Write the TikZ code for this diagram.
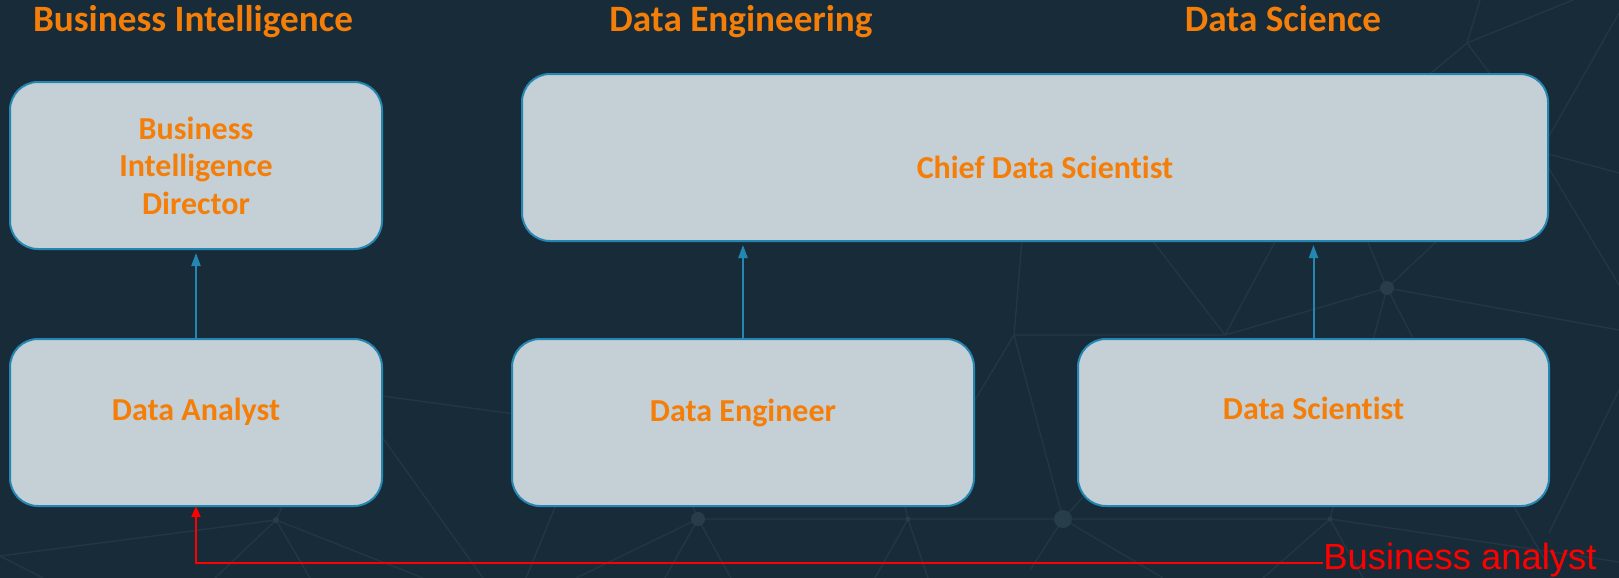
\documentclass[tikz,border=0pt]{standalone}
\usepackage{fontspec}
\setmainfont{Carlito}[Ligatures=NoCommon]
\newfontfamily\arialfont{Liberation Sans}
\usetikzlibrary{positioning,arrows.meta}
\definecolor{slate}{RGB}{23,44,56}
\definecolor{mesh}{RGB}{34,54,67}
\definecolor{meshdot}{RGB}{40,61,74}
\definecolor{boxfill}{RGB}{197,208,214}
\definecolor{boxline}{RGB}{36,134,178}
\definecolor{roleorange}{RGB}{244,126,8}
\tikzstyle{role box}=[draw=boxline,fill=boxfill,line width=1pt,rounded corners=14pt,outer sep=0pt,inner sep=0pt,minimum height=83.5pt,text=roleorange,font=\fontsize{16}{18.75}\selectfont\bfseries,align=center]
\tikzstyle{team title}=[text=roleorange,font=\fontsize{18.6}{22}\selectfont\bfseries,anchor=base,inner sep=0pt]
\tikzstyle{report edge}=[-{Triangle[length=6.5pt,width=4.5pt]},draw=boxline,line width=1pt,shorten >=2pt]
\tikzstyle{analyst edge}=[-{Triangle[length=5.5pt,width=4.5pt]},draw=red,line width=1pt]
\tikzstyle{mesh line}=[draw=mesh,line width=0.7pt]
\newcommand{\rolebox}[4][]{
  \node [role box, minimum width=#3, #1] (#2) {#4}
}

\begin{document}
\begin{tikzpicture}[x=0.5pt,y=-0.5pt]
        \path[use as bounding box,fill=slate] (0,0) rectangle (1619,578);

        % faint network in the background
        \draw[mesh line] (0,556) -- (276,520) -- (215,578) (276,520) -- (310,578)
            (276,520) -- (423,578) (276,520) -- (290,490) (0,556) -- (43,578)
            (360,393) -- (515,414) (370,420) -- (483,578)
            (698,519) -- (1330,519) -- (1619,562)
            (698,519) -- (576,578) (698,519) -- (665,578) (698,519) -- (731,578) (698,519) -- (688,495)
            (908,519) -- (875,578) (908,519) -- (928,578) (908,519) -- (902,495)
            (560,495) -- (526,578)
            (1014,335) -- (960,425) (1014,335) -- (1225,335) -- (1387,288) -- (1619,330)
            (1014,335) -- (1063,519) (1014,335) -- (1022,240)
            (1225,335) -- (1152,240) (1225,335) -- (1276,240)
            (1387,288) -- (1367,240) (1387,288) -- (1438,240) (1387,288) -- (1373,340) (1387,288) -- (1414,340)
            (1063,519) -- (1030,570) (1063,519) -- (1163,578) (1063,519) -- (1085,495)
            (1330,519) -- (1363,578) (1330,519) -- (1263,578) (1330,519) -- (1335,500)
            (1549,533) -- (1619,390) (1513,505) -- (1549,567)
            (1467,43) -- (1480,0) (1467,43) -- (1573,0) (1467,43) -- (1430,74) (1467,43) -- (1490,74)
            (1548,138) -- (1619,13) (1548,154) -- (1619,173) (1548,167) -- (1619,285);
        \fill[meshdot] (698,519) circle (3.5pt) (1063,519) circle (4.5pt) (1387,288) circle (3.5pt)
            (276,520) circle (1.5pt) (1330,519) circle (1.2pt) (908,519) circle (1.2pt);

        \node[team title] (bi title) at (193,32) {Business Intelligence};
        \node[team title] (de title) at (741,32) {Data Engineering};
        \node[team title] (ds title) at (1283,32) {Data Science};

        \rolebox[at={(196,422.5)},text height=10pt,text depth=12.5pt]{analyst}{186pt}{Data Analyst};
        \rolebox[above=45pt of analyst]{bid}{186pt}{Business\\Intelligence\\Director};
        \rolebox[right=65pt of analyst,text height=10pt,text depth=11pt]{engineer}{231pt}{Data Engineer};
        \rolebox[right=52pt of engineer,text height=10pt,text depth=13pt]{scientist}{235.5pt}{Data Scientist};
        \rolebox[at={(1035,157.5)},text height=20.5pt,text depth=0pt]{chief}{513pt}{\hspace*{10pt}Chief Data Scientist};

        \node[anchor=base west,inner sep=0pt,text=red,font=\arialfont\fontsize{18.2}{22}\selectfont] (ba) at (1323,569) {Business analyst};

            \draw[report edge] (analyst) -- (bid);
            \draw[report edge] (engineer) -- (engineer |- chief.south);
            \draw[report edge] (scientist) -- (scientist |- chief.south);

            \draw[analyst edge] ([yshift=3pt]ba.base west) -| (analyst);
\end{tikzpicture}
\end{document}
